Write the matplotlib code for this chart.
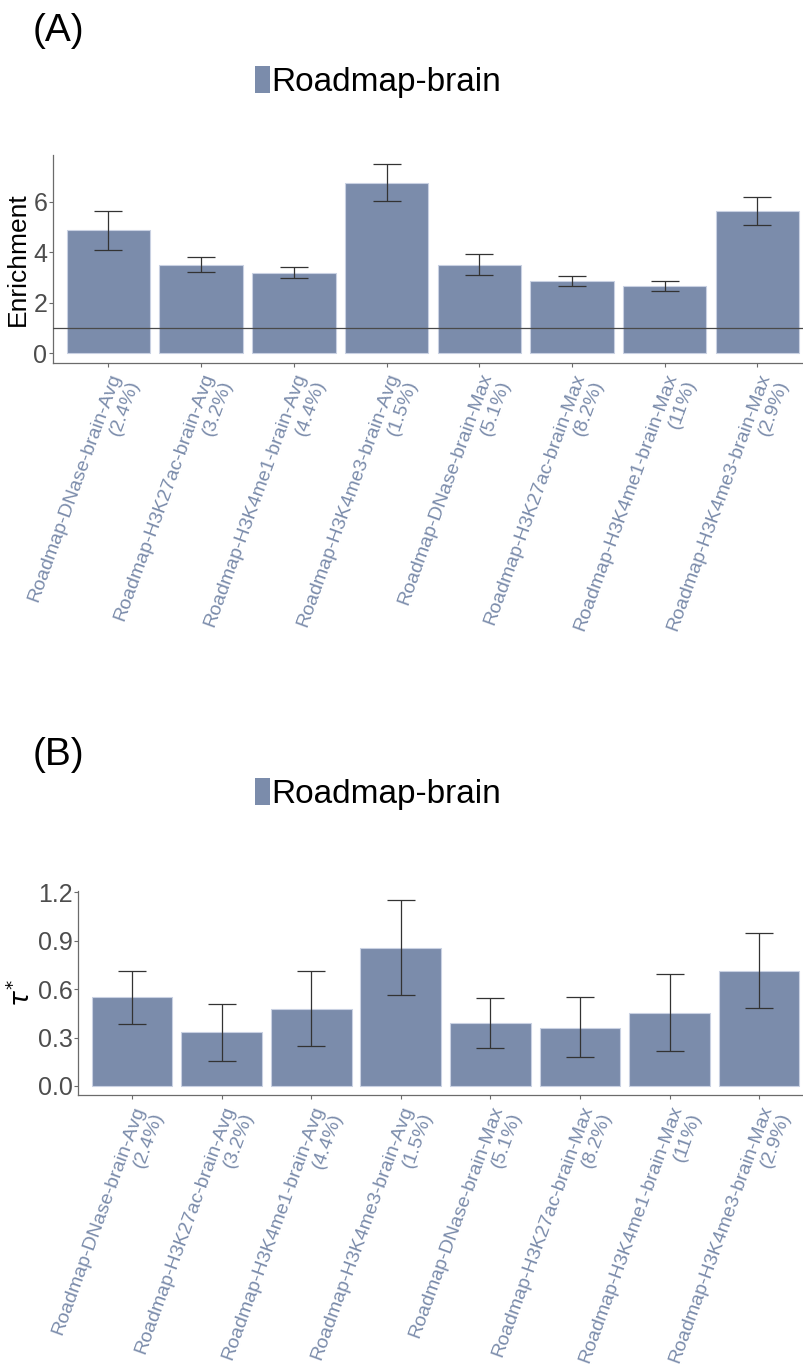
import matplotlib
matplotlib.use("Agg")
import matplotlib.pyplot as plt
from matplotlib.patches import Patch

plt.rcParams["font.family"] = ["Liberation Sans", "DejaVu Sans"]
plt.rcParams["mathtext.fontset"] = "dejavusans"

# annotations and their share of SNPs
annots = [
    "Roadmap-DNase-brain-Avg",
    "Roadmap-H3K27ac-brain-Avg",
    "Roadmap-H3K4me1-brain-Avg",
    "Roadmap-H3K4me3-brain-Avg",
    "Roadmap-DNase-brain-Max",
    "Roadmap-H3K27ac-brain-Max",
    "Roadmap-H3K4me1-brain-Max",
    "Roadmap-H3K4me3-brain-Max",
]
percents = ["2.4%", "3.2%", "4.4%", "1.5%", "5.1%", "8.2%", "11%", "2.9%"]

# (A) enrichment
enrich = [4.87, 3.52, 3.20, 6.76, 3.52, 2.87, 2.66, 5.65]
enrich_lo = [4.08, 3.24, 2.98, 6.05, 3.11, 2.67, 2.49, 5.10]
enrich_hi = [5.66, 3.82, 3.44, 7.49, 3.92, 3.08, 2.85, 6.21]

# (B) tau*
tau = [0.550, 0.332, 0.480, 0.857, 0.391, 0.362, 0.455, 0.715]
tau_lo = [0.383, 0.156, 0.245, 0.566, 0.235, 0.177, 0.216, 0.482]
tau_hi = [0.715, 0.508, 0.710, 1.153, 0.548, 0.552, 0.694, 0.949]

BAR = "#7b8cab"
EDGE = "#c9d1e2"
AXC = "#6b6b6b"
TICKC = "#4d4d4d"

W, H = 804, 1364
fig = plt.figure(figsize=(W / 100, H / 100), dpi=100)

labels = [f"{a}\n({p})" for a, p in zip(annots, percents)]


def panel(rect, vals, lo, hi, ylim, yticks, ytl, ylabel, letter, letter_y, leg_y, hline=None):
    ax = fig.add_axes(rect)
    x = list(range(len(vals)))
    ax.bar(x, vals, width=0.9, color=BAR, edgecolor=EDGE, linewidth=0.8, zorder=2)
    if hline is not None:
        ax.axhline(hline, color="#4a4a4a", lw=0.9, zorder=3)
    err = [[v - l for v, l in zip(vals, lo)], [h - v for v, h in zip(vals, hi)]]
    ax.errorbar(x, vals, yerr=err, fmt="none", ecolor="#333333", elinewidth=0.9,
                capsize=10, capthick=0.9, zorder=4)
    ax.set_xlim(-0.6, len(vals) - 0.4)
    ax.set_ylim(*ylim)
    ax.set_yticks(yticks)
    ax.set_yticklabels(ytl, fontsize=18, color=TICKC)
    ax.set_xticks(x)
    ax.set_xticklabels(labels, rotation=70, ha="right", va="top", rotation_mode="anchor",
                       multialignment="right", fontsize=14, color=BAR)
    for s in ["top", "right"]:
        ax.spines[s].set_visible(False)
    for s in ["left", "bottom"]:
        ax.spines[s].set_color(AXC)
        ax.spines[s].set_linewidth(0.9)
    ax.tick_params(axis="both", color=AXC, length=3, width=0.8)
    ax.tick_params(axis="y", pad=1)
    ax.tick_params(axis="x", pad=3)
    ax.set_ylabel(ylabel, fontsize=19, color="black", labelpad=2)
    fig.text(33 / W, 1 - letter_y / H, letter, fontsize=28, ha="left", va="center")
    fig.legend(handles=[Patch(facecolor=BAR, edgecolor="none", label="Roadmap-brain")],
               loc="center", bbox_to_anchor=(378 / W, 1 - leg_y / H), frameon=False,
               fontsize=24, handlelength=0.45, handleheight=0.85, handletextpad=0.05,
               borderpad=0)
    return ax


panel([52.7 / W, 1 - 362.7 / H, 760.4 / W, 207.7 / H], enrich, enrich_lo, enrich_hi,
      (-0.37, 7.86), [0, 2, 4, 6], ["0", "2", "4", "6"], "Enrichment",
      "(A)", 31, 82, hline=1)

panel([78.3 / W, 1 - 1095.3 / H, 734.6 / W, 204.6 / H], tau, tau_lo, tau_hi,
      (-0.058, 1.211), [0, 0.3, 0.6, 0.9, 1.2], ["0.0", "0.3", "0.6", "0.9", "1.2"],
      r"$\tau^{*}$", "(B)", 755, 794)

fig.savefig("out.png", dpi=100)
